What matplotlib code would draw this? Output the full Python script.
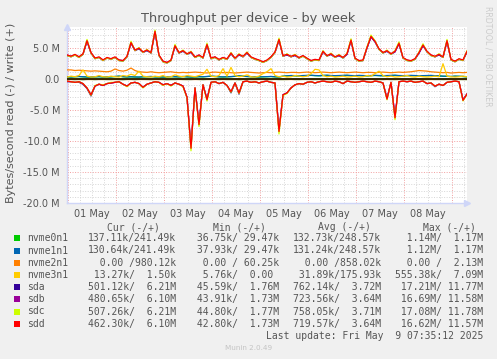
import numpy as np
import pandas as pd
import matplotlib
matplotlib.use('Agg')
import matplotlib.pyplot as plt
from matplotlib.patches import Rectangle

# ---------------- data (values in MB/s, read shown negative) ----------------
start_time = '2025-04-30 23:35:12'
n_points = 101  # one sample every 2 hours
times = pd.date_range(start_time, periods=n_points, freq='2h')

devices = ['nvme0n1', 'nvme1n1', 'nvme2n1', 'nvme3n1', 'sda', 'sdb', 'sdc', 'sdd']
colors = ['#00CC00', '#0066B3', '#FF8000', '#FFCC00', '#330099', '#990099', '#CCFF00', '#FF0000']

nvme0n1_write = [0.28,0.26,0.30,0.33,0.28,0.25,0.24,0.28,0.31,0.26,
                 0.25,0.28,0.33,0.38,0.30,0.26,0.28,0.25,0.24,0.28,
                 0.30,0.33,0.28,0.26,0.25,0.28,0.31,0.29,0.27,0.33,
                 0.28,0.25,0.26,0.30,0.28,0.33,0.38,0.34,0.28,0.26,
                 0.28,0.31,0.36,0.42,0.38,0.33,0.30,0.28,0.26,0.28,
                 0.30,0.33,0.28,0.26,0.38,0.42,0.47,0.45,0.42,0.47,
                 0.49,0.52,0.47,0.45,0.49,0.52,0.47,0.45,0.47,0.49,
                 0.52,0.47,0.45,0.49,0.47,0.44,0.47,0.50,0.47,0.45,
                 0.47,0.49,0.52,0.47,0.45,0.47,0.49,0.47,0.42,0.45,
                 0.47,0.49,0.45,0.42,0.38,0.36,0.33,0.38,0.36,0.33,
                 0.28]
nvme0n1_read = [0.13,0.12,0.14,0.13,0.15,0.12,0.13,0.14,0.12,0.13,
                0.13,0.14,0.12,0.13,0.15,0.13,0.12,0.14,0.13,0.12,
                0.13,0.14,0.13,0.12,0.13,0.15,0.14,0.13,0.12,0.13,
                0.14,0.13,0.12,0.13,0.14,0.13,0.12,0.13,0.14,0.12,
                0.13,0.14,0.13,0.15,0.13,0.12,0.13,0.14,0.13,0.12,
                0.13,0.14,0.12,0.13,0.14,0.13,0.12,0.13,0.14,0.13,
                0.12,0.13,0.14,0.13,0.12,0.13,0.14,0.13,0.12,0.13,
                0.14,0.13,0.12,0.13,0.14,0.13,0.12,0.13,0.14,0.13,
                0.12,0.13,0.14,0.13,0.12,0.13,0.14,0.13,0.12,0.13,
                0.14,0.13,0.12,0.13,0.14,0.13,0.12,0.13,0.14,0.13,
                0.14]
nvme1n1_write = [0.30,0.28,0.32,0.35,0.30,0.27,0.25,0.30,0.33,0.28,
                 0.26,0.30,0.35,0.40,0.32,0.28,0.30,0.27,0.25,0.30,
                 0.32,0.35,0.30,0.28,0.26,0.30,0.33,0.31,0.29,0.35,
                 0.30,0.27,0.28,0.32,0.30,0.35,0.40,0.36,0.30,0.28,
                 0.30,0.33,0.38,0.45,0.40,0.35,0.32,0.30,0.28,0.30,
                 0.32,0.35,0.30,0.28,0.40,0.45,0.50,0.48,0.45,0.50,
                 0.52,0.55,0.50,0.48,0.52,0.55,0.50,0.48,0.50,0.52,
                 0.55,0.50,0.48,0.52,0.50,0.47,0.50,0.53,0.50,0.48,
                 0.50,0.52,0.55,0.50,0.48,0.50,0.52,0.50,0.45,0.48,
                 0.50,0.52,0.48,0.45,0.40,0.38,0.35,0.40,0.38,0.35,
                 0.30]
nvme1n1_read = [0.13,0.13,0.14,0.12,0.15,0.13,0.12,0.14,0.13,0.12,
                0.14,0.13,0.12,0.14,0.15,0.12,0.13,0.14,0.12,0.13,
                0.13,0.14,0.12,0.13,0.13,0.15,0.13,0.14,0.12,0.13,
                0.13,0.14,0.12,0.13,0.14,0.12,0.13,0.13,0.14,0.12,
                0.14,0.13,0.13,0.15,0.12,0.13,0.14,0.13,0.12,0.13,
                0.14,0.13,0.12,0.14,0.13,0.13,0.12,0.14,0.13,0.12,
                0.13,0.14,0.13,0.12,0.13,0.14,0.13,0.12,0.14,0.13,
                0.13,0.14,0.12,0.13,0.13,0.14,0.12,0.13,0.13,0.14,
                0.12,0.14,0.13,0.12,0.13,0.14,0.13,0.12,0.13,0.14,
                0.13,0.12,0.14,0.13,0.13,0.12,0.14,0.13,0.12,0.14,
                0.13]
nvme2n1_write = [1.40,1.40,1.30,1.35,1.30,1.25,1.20,1.25,1.20,1.15,
                 1.10,1.20,1.55,1.30,1.20,1.35,1.70,1.30,1.10,1.05,
                 1.00,1.10,1.00,0.95,1.00,1.05,1.10,1.00,0.95,1.00,
                 0.95,1.00,1.05,1.00,0.95,0.90,1.00,1.05,1.00,0.95,
                 1.00,0.95,0.90,0.95,1.00,1.05,1.00,0.95,0.90,0.95,
                 1.00,0.95,1.00,1.05,1.00,0.95,1.00,1.00,0.95,1.00,
                 1.05,1.00,0.95,1.00,1.05,1.00,0.95,1.00,1.05,1.00,
                 0.95,1.00,1.05,1.00,0.95,1.00,1.00,0.95,1.00,1.05,
                 1.00,0.95,1.00,1.05,1.00,1.05,1.10,1.20,1.30,1.25,
                 1.20,1.10,1.05,1.00,0.95,1.00,0.90,0.95,1.00,0.95,
                 1.00]
nvme2n1_read = [0.0] * 101
nvme3n1_write = [0.25,0.40,0.30,0.50,1.40,0.40,0.25,0.30,0.50,0.30,
                 0.25,0.40,0.30,0.25,0.50,0.40,0.70,0.50,1.20,0.40,
                 0.30,0.25,0.40,0.30,0.50,0.25,0.30,0.60,0.40,0.30,
                 0.50,0.40,0.30,0.50,0.70,1.50,0.40,0.30,0.50,1.60,
                 0.40,1.80,0.50,0.30,0.40,0.60,0.30,0.25,0.40,0.80,
                 1.10,1.60,0.50,0.30,0.40,0.25,0.30,0.50,0.40,0.30,
                 0.40,0.80,1.50,1.40,0.50,0.30,0.40,0.25,0.30,0.40,
                 0.25,0.30,0.40,0.25,0.30,0.50,0.40,0.80,1.20,0.50,
                 0.30,0.40,0.25,0.30,0.40,0.50,0.30,0.25,0.40,0.30,
                 0.25,0.30,0.40,0.30,2.40,0.40,0.30,0.25,0.30,0.40,
                 0.30]
nvme3n1_read = [0.03,0.02,0.04,0.03,0.05,0.03,0.02,0.03,0.04,0.03,
                0.02,0.03,0.04,0.03,0.02,0.03,0.05,0.03,0.04,0.03,
                0.02,0.03,0.04,0.03,0.02,0.03,0.04,0.03,0.02,0.03,
                0.04,0.03,0.02,0.03,0.04,0.05,0.03,0.02,0.03,0.04,
                0.03,0.05,0.03,0.02,0.03,0.04,0.03,0.02,0.03,0.04,
                0.03,0.04,0.03,0.02,0.03,0.04,0.03,0.02,0.03,0.04,
                0.03,0.02,0.04,0.03,0.02,0.03,0.04,0.03,0.02,0.03,
                0.04,0.03,0.02,0.03,0.04,0.03,0.02,0.03,0.04,0.03,
                0.02,0.03,0.04,0.03,0.02,0.03,0.04,0.03,0.02,0.03,
                0.04,0.03,0.02,0.03,0.04,0.03,0.02,0.03,0.04,0.03,
                0.01]
sda_write = [3.7,3.5,3.8,3.4,3.9,6.0,4.1,3.2,3.4,2.9,
             3.3,3.1,3.4,2.9,2.8,3.5,5.7,4.5,4.8,4.2,
             4.5,4.1,7.5,3.7,2.7,2.5,2.9,5.2,4.1,4.4,
             3.9,4.2,3.4,3.7,3.3,5.4,3.2,3.4,3.0,3.3,
             3.1,4.0,3.2,3.8,3.5,4.1,3.4,3.1,2.9,2.6,
             2.9,3.4,4.2,6.2,3.6,3.8,3.5,3.7,3.3,3.6,
             3.2,2.8,3.0,2.9,4.3,3.6,3.9,3.4,3.7,3.3,
             3.9,6.1,3.2,2.8,2.9,4.9,6.7,5.9,4.7,4.1,
             4.4,3.9,4.3,5.6,3.3,2.9,2.8,3.1,4.1,5.3,
             4.3,3.7,3.5,3.8,3.4,6.0,3.0,2.7,3.1,2.9,
             4.3]
sda_read = [0.5,0.5,0.6,0.6,0.9,1.6,2.8,1.2,0.9,1.1,
            0.8,0.7,0.6,0.5,0.9,1.2,0.7,0.6,0.8,1.4,
            0.9,0.7,0.5,0.6,1.0,0.8,1.1,0.7,0.9,1.2,
            3.0,11.1,1.5,7.3,1.0,3.3,0.6,0.5,0.8,0.6,
            1.1,2.3,0.7,2.5,0.5,0.4,0.6,0.5,0.7,0.5,
            0.4,0.6,0.7,8.4,2.6,2.3,1.5,1.0,0.8,0.9,
            0.6,0.5,0.7,0.5,0.4,0.5,0.6,0.4,0.5,0.8,
            0.4,0.5,0.6,0.5,0.4,0.5,0.6,0.4,0.5,0.7,
            3.2,0.6,6.2,0.5,0.4,0.5,0.4,0.6,0.5,0.4,
            0.8,0.7,1.3,0.9,1.1,0.6,0.5,0.4,0.5,3.4,
            2.5]
sdb_write = [3.8,3.6,3.8,3.5,3.9,6.1,4.1,3.3,3.4,3.0,
             3.3,3.2,3.4,3.0,2.9,3.5,5.8,4.5,4.9,4.2,
             4.6,4.1,7.6,3.7,2.8,2.6,2.9,5.3,4.1,4.5,
             3.9,4.3,3.4,3.8,3.3,5.5,3.2,3.5,3.0,3.4,
             3.1,4.1,3.2,3.9,3.5,4.2,3.4,3.2,2.9,2.7,
             2.9,3.5,4.2,6.3,3.6,3.9,3.5,3.8,3.3,3.7,
             3.2,2.9,3.0,3.0,4.3,3.7,3.9,3.5,3.7,3.4,
             3.9,6.2,3.2,2.9,2.9,5.0,6.7,6.0,4.7,4.2,
             4.4,4.0,4.3,5.7,3.3,3.0,2.8,3.2,4.1,5.4,
             4.3,3.8,3.5,3.9,3.4,6.1,3.0,2.8,3.1,3.0,
             4.3]
sdb_read = [0.4,0.5,0.6,0.5,0.8,1.5,2.6,1.2,0.9,1.1,
            0.8,0.7,0.6,0.5,0.9,1.2,0.7,0.6,0.8,1.4,
            0.9,0.7,0.5,0.6,1.0,0.8,1.1,0.7,0.9,1.2,
            3.0,11.0,1.5,7.2,1.0,3.3,0.6,0.5,0.8,0.6,
            1.1,2.1,0.7,2.3,0.5,0.4,0.6,0.5,0.7,0.5,
            0.4,0.6,0.7,8.3,2.6,2.3,1.5,1.0,0.8,0.9,
            0.6,0.5,0.7,0.5,0.4,0.5,0.6,0.4,0.5,0.8,
            0.4,0.5,0.6,0.5,0.4,0.5,0.6,0.4,0.5,0.7,
            3.2,0.6,6.1,0.5,0.4,0.5,0.4,0.6,0.5,0.4,
            0.8,0.7,1.2,0.9,1.1,0.6,0.5,0.4,0.5,3.4,
            2.4]
sdc_write = [3.7,3.5,3.8,3.4,3.9,6.3,4.1,3.2,3.4,2.9,
             3.3,3.1,3.4,2.9,2.8,3.5,6.0,4.5,5.0,4.2,
             4.7,4.1,7.8,3.7,2.7,2.5,2.9,5.5,4.1,4.6,
             3.9,4.4,3.4,3.7,3.3,5.7,3.2,3.4,3.0,3.3,
             3.1,4.2,3.2,4.0,3.5,4.3,3.4,3.1,2.9,2.6,
             2.9,3.4,4.2,6.5,3.6,4.0,3.5,3.9,3.3,3.6,
             3.2,2.8,3.0,2.9,4.5,3.6,4.1,3.4,3.9,3.3,
             4.1,6.4,3.2,2.8,2.9,5.1,7.0,6.1,4.7,4.1,
             4.6,3.9,4.5,5.9,3.3,2.9,2.8,3.1,4.3,5.6,
             4.3,3.7,3.5,4.0,3.4,6.3,3.0,2.7,3.1,2.9,
             4.5]
sdc_read = [0.4,0.5,0.6,0.5,0.8,1.5,2.7,1.1,0.9,1.0,
            0.8,0.6,0.6,0.5,0.9,1.3,0.7,0.6,0.8,1.5,
            0.9,0.7,0.5,0.6,1.1,0.8,1.2,0.7,0.9,1.3,
            3.1,11.6,1.5,7.7,1.0,3.6,0.6,0.5,0.8,0.6,
            1.1,2.2,0.7,2.4,0.5,0.4,0.6,0.5,0.7,0.5,
            0.4,0.6,0.7,8.9,2.7,2.4,1.5,1.0,0.8,0.9,
            0.6,0.5,0.7,0.5,0.4,0.5,0.6,0.4,0.5,0.8,
            0.4,0.5,0.6,0.5,0.4,0.5,0.6,0.4,0.5,0.7,
            3.4,0.6,6.6,0.5,0.4,0.5,0.4,0.6,0.5,0.4,
            0.8,0.7,1.2,0.9,1.1,0.6,0.5,0.4,0.5,3.6,
            2.5]
sdd_write = [3.8,3.6,3.9,3.5,4.0,6.1,4.2,3.3,3.5,3.0,
             3.4,3.2,3.5,3.0,2.9,3.6,5.8,4.6,4.9,4.3,
             4.6,4.2,7.6,3.8,2.8,2.6,3.0,5.3,4.2,4.5,
             4.0,4.3,3.5,3.8,3.4,5.5,3.3,3.5,3.1,3.4,
             3.2,4.1,3.3,3.9,3.6,4.2,3.5,3.2,3.0,2.7,
             3.0,3.5,4.3,6.3,3.7,3.9,3.6,3.8,3.4,3.7,
             3.3,2.9,3.1,3.0,4.4,3.7,4.0,3.5,3.8,3.4,
             4.0,6.2,3.3,2.9,3.0,5.0,6.8,6.0,4.8,4.2,
             4.5,4.0,4.4,5.7,3.4,3.0,2.9,3.2,4.2,5.4,
             4.4,3.8,3.6,3.9,3.5,6.1,3.1,2.8,3.2,3.0,
             4.4]
sdd_read = [0.4,0.5,0.6,0.5,0.8,1.5,2.6,1.2,0.9,1.1,
            0.8,0.7,0.6,0.5,0.9,1.2,0.7,0.6,0.8,1.4,
            0.9,0.7,0.5,0.6,1.0,0.8,1.1,0.7,0.9,1.2,
            3.0,11.2,1.5,7.4,1.0,3.4,0.6,0.5,0.8,0.6,
            1.1,2.1,0.7,2.3,0.5,0.4,0.6,0.5,0.7,0.5,
            0.4,0.6,0.7,8.5,2.6,2.3,1.5,1.0,0.8,0.9,
            0.6,0.5,0.7,0.5,0.4,0.5,0.6,0.4,0.5,0.8,
            0.4,0.5,0.6,0.5,0.4,0.5,0.6,0.4,0.5,0.7,
            3.3,0.6,6.3,0.5,0.4,0.5,0.4,0.6,0.5,0.4,
            0.8,0.7,1.2,0.9,1.1,0.6,0.5,0.4,0.5,3.5,
            2.5]

write_series = [nvme0n1_write, nvme1n1_write, nvme2n1_write, nvme3n1_write,
                sda_write, sdb_write, sdc_write, sdd_write]
read_series = [nvme0n1_read, nvme1n1_read, nvme2n1_read, nvme3n1_read,
               sda_read, sdb_read, sdc_read, sdd_read]

# legend statistics
cur_col = ['137.11k/241.49k', '130.64k/241.49k', '  0.00 /980.12k', ' 13.27k/  1.50k',
           '501.12k/  6.21M', '480.65k/  6.10M', '507.26k/  6.21M', '462.30k/  6.10M']
min_col = [' 36.75k/ 29.47k', ' 37.93k/ 29.47k', '  0.00 / 60.25k', '  5.76k/  0.00 ',
           ' 45.59k/  1.76M', ' 43.91k/  1.73M', ' 44.80k/  1.77M', ' 42.80k/  1.73M']
avg_col = ['132.73k/248.57k', '131.24k/248.57k', '  0.00 /858.02k', ' 31.89k/175.93k',
           '762.14k/  3.72M', '723.56k/  3.64M', '758.05k/  3.71M', '719.57k/  3.64M']
max_col = ['  1.14M/  1.17M', '  1.12M/  1.17M', '  0.00 /  2.13M', '555.38k/  7.09M',
           ' 17.21M/ 11.77M', ' 16.69M/ 11.58M', ' 17.08M/ 11.78M', ' 16.62M/ 11.57M']
col_headers = ['Cur (-/+)', 'Min (-/+)', 'Avg (-/+)', 'Max (-/+)']

ytick_values = [-20, -15, -10, -5, 0, 5]
ytick_labels = ['-20.0 M', '-15.0 M', '-10.0 M', '-5.0 M', '0.0', '5.0 M']
day_labels = ['01 May', '02 May', '03 May', '04 May', '05 May', '06 May', '07 May', '08 May']

# ---------------- figure ----------------
W, H = 497, 359
BG = '#F0F0F0'
TXT = '#555555'
fig = plt.figure(figsize=(W / 100, H / 100), dpi=100, facecolor=BG)

def fx(px):
    return px / W

def fy(py):
    return 1 - py / H

ax = fig.add_axes([fx(67), fy(203), fx(400), (203 - 27) / H])
ax.set_facecolor('white')

x_start = times[0]
x_end = times[-1]
ax.set_xlim(x_start, x_end)
ax.set_ylim(-20, 8.3)

# grid lines
minor_style = dict(color='#d6d6d6', lw=0.7, ls=(0, (1, 1.6)), zorder=1)
major_style = dict(color='#f2a0a0', lw=0.7, ls=(0, (1, 1.6)), zorder=1)
for v in range(-19, 9):
    if v % 5 != 0:
        ax.axhline(v, **minor_style)
for v in ytick_values:
    if v != 0:
        ax.axhline(v, **major_style)
six_hours = pd.date_range('2025-05-01 06:00', '2025-05-09 06:00', freq='6h')
for t in six_hours:
    if t.hour != 0:
        ax.axvline(t, **minor_style)
midnights = pd.date_range('2025-05-01', '2025-05-09', freq='D')
for t in midnights:
    ax.axvline(t, **major_style)

# series
for name, col, w, r in zip(devices, colors, write_series, read_series):
    ax.plot(times, -np.array(r), color=col, lw=0.9, zorder=3)
    ax.plot(times, np.array(w), color=col, lw=0.9, zorder=3)
ax.axhline(0, color='black', lw=1.1, zorder=4)

# axes styling
for s in ['top', 'right']:
    ax.spines[s].set_visible(False)
for s in ['left', 'bottom']:
    ax.spines[s].set_color('#CFD6F8')
    ax.spines[s].set_linewidth(1.0)
ax.plot([0], [1.0], marker='^', color='#CFD6F8', ms=4.5, transform=ax.transAxes,
        clip_on=False, zorder=5)
ax.plot([1.0], [0], marker='>', color='#CFD6F8', ms=4.5, transform=ax.transAxes,
        clip_on=False, zorder=5)

ax.set_yticks(ytick_values)
ax.set_yticklabels(ytick_labels)
noons = pd.date_range('2025-05-01 12:00', periods=len(day_labels), freq='D')
ax.set_xticks(noons)
ax.set_xticklabels(day_labels)
ax.tick_params(axis='both', length=0, labelsize=7, labelcolor=TXT)
ax.tick_params(axis='y', pad=5)
ax.tick_params(axis='x', pad=4)

# titles
fig.text(fx(248), fy(18.5), 'Throughput per device - by week', ha='center', va='center',
         fontsize=9.3, color=TXT)
fig.text(fx(11), fy(113), 'Bytes/second read (-) / write (+)', ha='center', va='center',
         rotation=90, fontsize=8, color=TXT)
fig.text(fx(488), fy(56), 'RRDTOOL / TOBI OETIKER', ha='center', va='center',
         rotation=270, fontsize=5.7, color='#cccccc')
fig.text(fx(249), fy(348), 'Munin 2.0.49', ha='center', va='center',
         fontsize=5.2, color='#c4c4c4')

# legend
mono = 'DejaVu Sans Mono'
header_x = [107, 213, 318, 423]
for hx, h in zip(header_x, col_headers):
    fig.text(fx(hx), fy(227), h, ha='left', va='center', family=mono, fontsize=7, color=TXT)
col_x = [88, 191, 293, 395]
for k, name in enumerate(devices):
    yc = 238.3 + 12.2 * k
    fig.add_artist(Rectangle((fx(14), fy(yc + 3)), fx(6), 6 / H, transform=fig.transFigure,
                             facecolor=colors[k], edgecolor='none'))
    fig.text(fx(27), fy(yc), name, ha='left', va='center', family=mono, fontsize=7, color=TXT)
    for cx, colvals in zip(col_x, [cur_col, min_col, avg_col, max_col]):
        fig.text(fx(cx), fy(yc), colvals[k], ha='left', va='center', family=mono,
                 fontsize=7, color=TXT)
fig.text(fx(483), fy(336), 'Last update: Fri May  9 07:35:12 2025', ha='right', va='center',
         family=mono, fontsize=7, color=TXT)

fig.savefig('out.png', dpi=100, facecolor=BG)
